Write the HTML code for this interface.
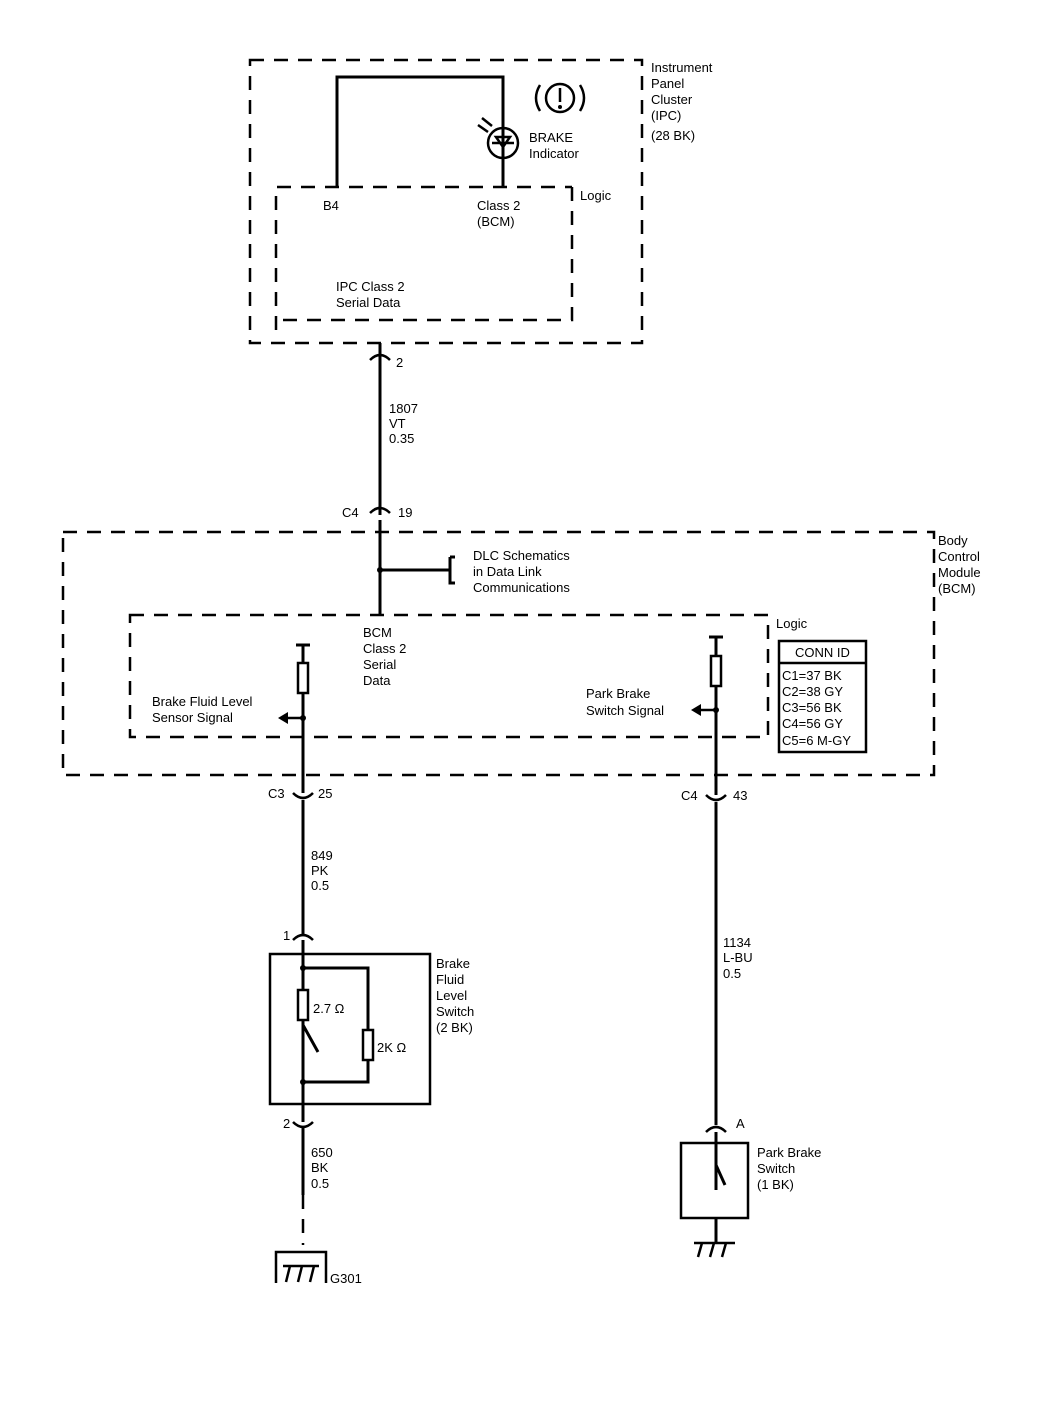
<!DOCTYPE html><html><head><style>body{margin:0;background:#fff}svg{display:block}text{font-family:"Liberation Sans",sans-serif;font-size:13px;fill:#000}</style></head><body>
<svg width="1048" height="1408" viewBox="0 0 1048 1408" xmlns="http://www.w3.org/2000/svg" stroke="#000" fill="none">
<g stroke-width="2.5" stroke-dasharray="14,10">
<rect x="250" y="60" width="392" height="283"/>
<path d="M276 330V187H572M572 187V320H276"/>
<rect x="63" y="532" width="871" height="243"/>
<path d="M130 615H768V737H130Z"/>
<path d="M303 1195V1245"/>
</g>
<g stroke-width="3">
<path d="M337 187V77H503V187"/>
<path d="M380 343V515M380 520V615M380 570H450M450 557V583H455M450 557H455"/>
<path d="M303 645V793M296 645H310M303 800V935M303 940V1122M303 1128V1195"/>
<path d="M716 637V795M709 637H723M716 802V1125M716 1132V1190M716 1218V1243"/>
<path d="M303 968H368V1030M368 1060V1082H303"/>
<path d="M303 1025L318 1052M303 1062V1082"/>
<path d="M716 1165L725 1185"/>
</g>
<g stroke-width="2.5">
<circle cx="503" cy="143" r="15"/><path d="M492 143H514M496 137L503 147L510 137Z"/>
<path d="M478 125L488 132M482 118L492 126"/>
<circle cx="560" cy="98" r="14"/><path d="M540 85Q532 98 540 111M580 85Q588 98 580 111M560 88V102"/>
<rect x="298" y="663" width="10" height="30" fill="#fff"/><rect x="711" y="656" width="10" height="30" fill="#fff"/>
<rect x="298" y="990" width="10" height="30" fill="#fff"/><rect x="363" y="1030" width="10" height="30" fill="#fff"/>
<rect x="270" y="954" width="160" height="150"/>
<rect x="681" y="1143" width="67" height="75"/>
<rect x="779" y="641" width="87" height="111"/><path d="M779 663H866"/>
<path d="M303 718H285M716 710H698"/>
<path d="M370 360Q380 350 390 360M370 513Q380 503 390 513M293 793Q303 803 313 793M706 795Q716 805 726 795M293 940Q303 930 313 940M293 1122Q303 1132 313 1122M706 1132Q716 1122 726 1132"/>
<path d="M276 1283V1252H326V1283M283 1266H319M286 1282L290 1266M298 1282L302 1266M310 1282L314 1266"/>
<path d="M694 1243H735M698 1257L702 1243M710 1257L714 1243M722 1257L726 1243"/>
</g>
<g fill="#000" stroke="none">
<circle cx="380" cy="570" r="3"/><circle cx="303" cy="718" r="3"/><circle cx="716" cy="710" r="3"/><circle cx="303" cy="968" r="3"/><circle cx="303" cy="1082" r="3"/>
<path d="M278 718L288 712V724Z"/><path d="M691 710L701 704V716Z"/><circle cx="560" cy="107" r="2"/>
</g>
<g stroke="none">
<text x="651" y="72">Instrument</text><text x="651" y="88">Panel</text><text x="651" y="104">Cluster</text><text x="651" y="120">(IPC)</text><text x="651" y="140">(28 BK)</text>
<text x="529" y="142">BRAKE</text><text x="529" y="158">Indicator</text>
<text x="323" y="210">B4</text><text x="477" y="210">Class 2</text><text x="477" y="226">(BCM)</text><text x="580" y="200">Logic</text>
<text x="336" y="291">IPC Class 2</text><text x="336" y="307">Serial Data</text>
<text x="396" y="367">2</text>
<text x="389" y="413">1807</text><text x="389" y="428">VT</text><text x="389" y="443">0.35</text>
<text x="342" y="517">C4</text><text x="398" y="517">19</text>
<text x="938" y="545">Body</text><text x="938" y="561">Control</text><text x="938" y="577">Module</text><text x="938" y="593">(BCM)</text>
<text x="473" y="560">DLC Schematics</text><text x="473" y="576">in Data Link</text><text x="473" y="592">Communications</text>
<text x="363" y="637">BCM</text><text x="363" y="653">Class 2</text><text x="363" y="669">Serial</text><text x="363" y="685">Data</text>
<text x="776" y="628">Logic</text>
<text x="795" y="657">CONN ID</text>
<text x="782" y="680">C1=37 BK</text><text x="782" y="696">C2=38 GY</text><text x="782" y="712">C3=56 BK</text><text x="782" y="728">C4=56 GY</text><text x="782" y="745">C5=6 M-GY</text>
<text x="152" y="706">Brake Fluid Level</text><text x="152" y="722">Sensor Signal</text>
<text x="586" y="698">Park Brake</text><text x="586" y="715">Switch Signal</text>
<text x="268" y="798">C3</text><text x="318" y="798">25</text><text x="681" y="800">C4</text><text x="733" y="800">43</text>
<text x="311" y="860">849</text><text x="311" y="875">PK</text><text x="311" y="890">0.5</text>
<text x="283" y="940">1</text><text x="283" y="1128">2</text><text x="736" y="1128">A</text>
<text x="436" y="968">Brake</text><text x="436" y="984">Fluid</text><text x="436" y="1000">Level</text><text x="436" y="1016">Switch</text><text x="436" y="1032">(2 BK)</text>
<text x="313" y="1013">2.7 Ω</text><text x="377" y="1052">2K Ω</text>
<text x="311" y="1157">650</text><text x="311" y="1172">BK</text><text x="311" y="1188">0.5</text>
<text x="330" y="1283">G301</text>
<text x="723" y="947">1134</text><text x="723" y="962">L-BU</text><text x="723" y="978">0.5</text>
<text x="757" y="1157">Park Brake</text><text x="757" y="1173">Switch</text><text x="757" y="1189">(1 BK)</text>
</g>
</svg></body></html>
